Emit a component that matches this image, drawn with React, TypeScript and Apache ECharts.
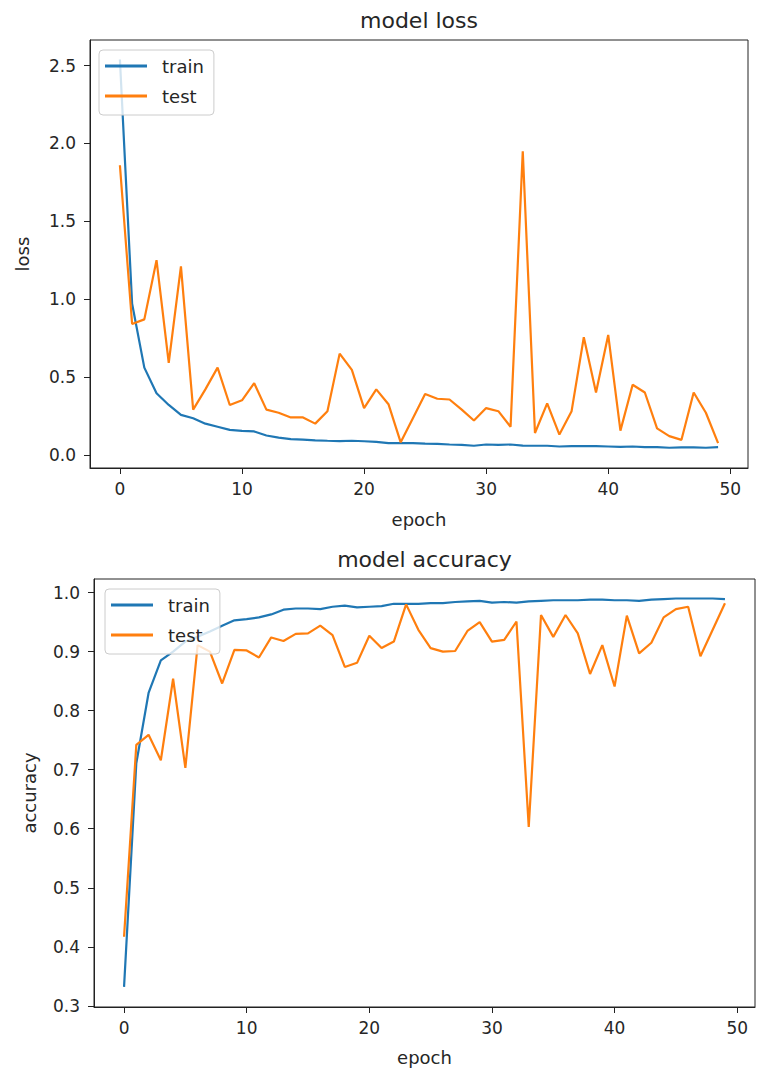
import React, { useEffect, useRef } from "react";
import * as echarts from "echarts";

const lossTrain = [2.54, 0.97, 0.56, 0.395, 0.32, 0.256, 0.235, 0.2, 0.18, 0.16, 0.154, 0.15, 0.124, 0.11, 0.1, 0.097, 0.093, 0.09, 0.088, 0.09, 0.087, 0.083, 0.075, 0.075, 0.075, 0.072, 0.07, 0.066, 0.064, 0.058, 0.066, 0.064, 0.066, 0.059, 0.058, 0.058, 0.053, 0.055, 0.055, 0.055, 0.053, 0.051, 0.053, 0.049, 0.049, 0.045, 0.047, 0.047, 0.045, 0.049];
const lossTest = [1.86, 0.84, 0.87, 1.25, 0.59, 1.21, 0.29, 0.42, 0.56, 0.32, 0.35, 0.46, 0.29, 0.27, 0.24, 0.24, 0.2, 0.28, 0.65, 0.545, 0.3, 0.42, 0.325, 0.08, 0.235, 0.39, 0.36, 0.355, 0.29, 0.22, 0.3, 0.28, 0.18, 1.95, 0.14, 0.33, 0.13, 0.28, 0.755, 0.4, 0.77, 0.155, 0.45, 0.4, 0.17, 0.12, 0.096, 0.4, 0.27, 0.075];
const accTrain = [0.332, 0.711, 0.83, 0.885, 0.9, 0.917, 0.925, 0.934, 0.944, 0.953, 0.955, 0.958, 0.963, 0.971, 0.973, 0.973, 0.972, 0.976, 0.978, 0.975, 0.976, 0.977, 0.981, 0.981, 0.981, 0.982, 0.982, 0.984, 0.985, 0.986, 0.983, 0.984, 0.983, 0.985, 0.986, 0.987, 0.987, 0.987, 0.988, 0.988, 0.987, 0.987, 0.986, 0.988, 0.989, 0.99, 0.99, 0.99, 0.99, 0.989];
const accTest = [0.417, 0.742, 0.759, 0.716, 0.854, 0.703, 0.911, 0.9, 0.846, 0.903, 0.902, 0.89, 0.924, 0.918, 0.93, 0.931, 0.944, 0.928, 0.874, 0.881, 0.927, 0.906, 0.917, 0.98, 0.937, 0.906, 0.9, 0.901, 0.935, 0.95, 0.917, 0.92, 0.951, 0.603, 0.962, 0.925, 0.962, 0.931, 0.862, 0.911, 0.841, 0.961, 0.897, 0.915, 0.958, 0.972, 0.976, 0.892, 0.937, 0.982];

const xTicks = [0, 10, 20, 30, 40, 50];
const lossTicks = [0, 0.5, 1.0, 1.5, 2.0, 2.5];
const accTicks = [0.3, 0.4, 0.5, 0.6, 0.7, 0.8, 0.9, 1.0];
const legendNames = ["train", "test"];
const titles = ["model loss", "model accuracy"];
const yNames = ["loss", "accuracy"];
const xName = "epoch";

const FONT = "DejaVu Sans";
const TXT = "#262626";
const AX = "#222";
const BLUE = "#1f77b4";
const ORANGE = "#ff7f0e";

const pairs = (arr: number[]) => arr.map((v, i) => [i, v]);

function xAxisFor(gridIndex: number, nameGap: number) {
  return {
    gridIndex,
    type: "value",
    min: -2.45,
    max: 51.45,
    name: xName,
    nameLocation: "middle",
    nameGap,
    nameTextStyle: { fontFamily: FONT, fontSize: 18, color: TXT },
    axisLine: { show: true, onZero: false, lineStyle: { color: AX, width: 1 } },
    axisTick: { show: true, length: 6, customValues: xTicks, lineStyle: { color: AX } },
    axisLabel: { customValues: xTicks, fontFamily: FONT, fontSize: 17, color: TXT, margin: 12 },
    splitLine: { show: false },
  };
}

function yAxisFor(gridIndex: number, min: number, max: number, ticks: number[], name: string, nameGap: number) {
  return {
    gridIndex,
    type: "value",
    min,
    max,
    name,
    nameLocation: "middle",
    nameGap,
    nameTextStyle: { fontFamily: FONT, fontSize: 18, color: TXT },
    axisLine: { show: true, onZero: false, lineStyle: { color: AX, width: 1 } },
    axisTick: { show: true, length: 6, customValues: ticks, lineStyle: { color: AX } },
    axisLabel: {
      customValues: ticks,
      fontFamily: FONT,
      fontSize: 17,
      color: TXT,
      margin: 14,
      formatter: (v: number) => v.toFixed(1),
    },
    splitLine: { show: false },
  };
}

function legendFor(left: number, top: number) {
  return {
    left,
    top,
    orient: "vertical",
    data: legendNames,
    icon: "rect",
    itemWidth: 42,
    itemHeight: 3,
    itemGap: 10,
    padding: [6, 10, 9, 6],
    backgroundColor: "rgba(255,255,255,0.8)",
    borderColor: "#cccccc",
    borderWidth: 1,
    borderRadius: 4,
    selectedMode: false,
    textStyle: { fontFamily: FONT, fontSize: 18, color: TXT, lineHeight: 20, padding: [0, 0, 0, 10] },
  };
}

function lineSeries(name: string, data: number[], color: string, idx: number) {
  return {
    type: "line",
    name,
    data: pairs(data),
    xAxisIndex: idx,
    yAxisIndex: idx,
    showSymbol: false,
    color,
    lineStyle: { color, width: 2.2 },
    z: name === "train" ? 2 : 3,
  };
}

export default function App() {
  const ref = useRef<HTMLDivElement>(null);
  useEffect(() => {
    document.body.style.margin = "0";
    const chart = echarts.init(ref.current!, undefined, { renderer: "svg" });
    chart.setOption({
      animation: false,
      backgroundColor: "#ffffff",
      color: [BLUE, ORANGE],
      grid: [
        { left: 90, top: 40, width: 658, height: 428, show: true, borderColor: AX, borderWidth: 1, backgroundColor: "transparent" },
        { left: 94, top: 579, width: 661, height: 428, show: true, borderColor: AX, borderWidth: 1, backgroundColor: "transparent" },
      ],
      xAxis: [xAxisFor(0, 42), xAxisFor(1, 41)],
      yAxis: [
        yAxisFor(0, -0.085, 2.665, lossTicks, yNames[0], 59),
        yAxisFor(1, 0.298, 1.023, accTicks, yNames[1], 56),
      ],
      legend: [legendFor(99, 50), legendFor(105, 589)],
      graphic: [
        { type: "text", x: 419, y: 20, style: { text: titles[0], align: "center", verticalAlign: "middle", fontFamily: FONT, fontSize: 22, fill: TXT } },
        { type: "text", x: 424.5, y: 559, style: { text: titles[1], align: "center", verticalAlign: "middle", fontFamily: FONT, fontSize: 22, fill: TXT } },
      ],
      series: [
        lineSeries("train", lossTrain, BLUE, 0),
        lineSeries("test", lossTest, ORANGE, 0),
        lineSeries("train", accTrain, BLUE, 1),
        lineSeries("test", accTest, ORANGE, 1),
      ],
    });
    return () => chart.dispose();
  }, []);
  return <div ref={ref} style={{ width: 758, height: 1070 }} />;
}
